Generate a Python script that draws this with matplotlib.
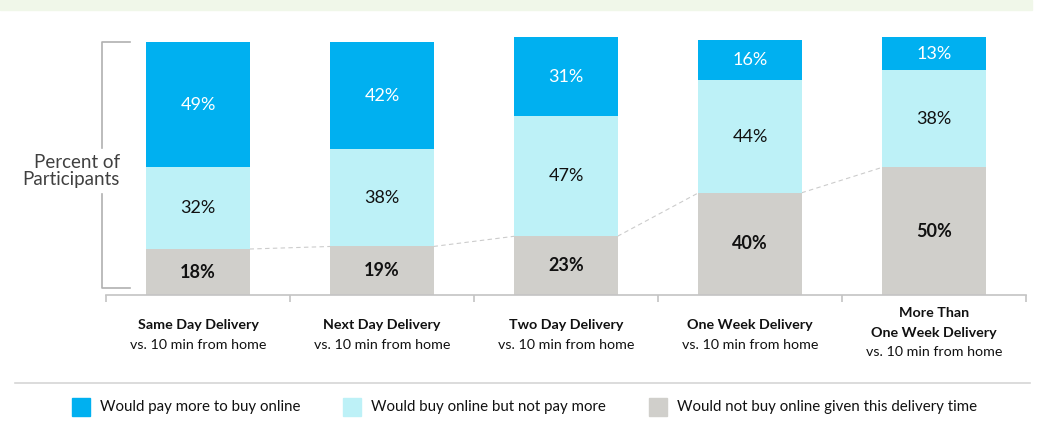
import matplotlib.pyplot as plt
import matplotlib.transforms as mtransforms
from matplotlib.patches import Rectangle
import numpy as np

plt.rcParams['font.family'] = ['Lato', 'DejaVu Sans']

# data
categories = ['Same Day Delivery', 'Next Day Delivery', 'Two Day Delivery',
              'One Week Delivery', 'More Than\nOne Week Delivery']
subtitle = 'vs. 10 min from home'
series = ['Would pay more to buy online',
          'Would buy online but not pay more',
          'Would not buy online given this delivery time']
pay_more = [49, 42, 31, 16, 13]
buy_no_more = [32, 38, 47, 44, 38]
not_buy = [18, 19, 23, 40, 50]

colors = ['#00B0F0', '#BDF1F7', '#D0CFCB']

W, H = 1038, 424
fig = plt.figure(figsize=(W / 100, H / 100), dpi=100)


def fx(px):
    return px / W


def fy(py):
    return 1 - py / H


ax = fig.add_axes([fx(106), fy(295), fx(1026) - fx(106), fy(37) - fy(295)])
x = np.arange(len(categories))
bw = 0.56

ax.bar(x, not_buy, bw, color=colors[2], zorder=2)
ax.bar(x, buy_no_more, bw, bottom=not_buy, color=colors[1], zorder=2)
bottom2 = np.array(not_buy) + np.array(buy_no_more)
ax.bar(x, pay_more, bw, bottom=bottom2, color=colors[0], zorder=2)

for i in range(len(categories)):
    ax.text(x[i], not_buy[i] / 2, f'{not_buy[i]}%', ha='center', va='center',
            fontsize=13, fontweight='bold', color='#111111')
    ax.text(x[i], not_buy[i] + buy_no_more[i] / 2, f'{buy_no_more[i]}%',
            ha='center', va='center', fontsize=13, color='#111111')
    ax.text(x[i], bottom2[i] + pay_more[i] / 2, f'{pay_more[i]}%',
            ha='center', va='center', fontsize=13, color='white')

# dashed connectors between grey tops
for i in range(len(categories) - 1):
    ax.plot([x[i] + bw / 2, x[i + 1] - bw / 2], [not_buy[i], not_buy[i + 1]],
            ls=(0, (4, 3)), lw=0.8, color='#cccccc', zorder=1)

ax.set_xlim(-0.5, len(categories) - 0.5)
ax.set_ylim(0, 101)
for s in ['top', 'right', 'left']:
    ax.spines[s].set_visible(False)
ax.spines['bottom'].set_color('#c4c4c4')
ax.spines['bottom'].set_linewidth(1.2)
ax.set_yticks([])
ax.set_xticks(np.arange(-0.5, len(categories), 1.0))
ax.set_xticklabels([])
ax.tick_params(axis='x', direction='out', length=5, width=1.2, color='#c4c4c4')

# category labels
trans = mtransforms.blended_transform_factory(ax.transData, fig.transFigure)
for i, c in enumerate(categories):
    lines = c.split('\n')
    if len(lines) == 1:
        ys = [325, 345]
    else:
        ys = [313, 333, 352]
    for j, ln in enumerate(lines):
        ax.text(x[i], fy(ys[j]), ln, transform=trans, ha='center', va='center',
                fontsize=10.3, fontweight='bold', color='#111111')
    ax.text(x[i], fy(ys[-1]), subtitle, transform=trans, ha='center',
            va='center', fontsize=10.3, color='#111111')

# bracket and y label
bc = '#b0b0b0'
fig.lines.append(plt.Line2D([fx(130), fx(102), fx(102)], [fy(42), fy(42), fy(148)],
                            transform=fig.transFigure, color=bc, lw=1.2))
fig.lines.append(plt.Line2D([fx(102), fx(102), fx(130)], [fy(194), fy(288), fy(288)],
                            transform=fig.transFigure, color=bc, lw=1.2))
fig.text(fx(120), fy(171), 'Percent of\nParticipants', ha='right', va='center',
         fontsize=13.5, color='#404040', linespacing=1.0)

# top band and separator
fig.patches.append(Rectangle((0, fy(10)), fx(1032), fy(0) - fy(10),
                             transform=fig.transFigure, color='#F0F7E9', zorder=0))
fig.lines.append(plt.Line2D([fx(15), fx(1030)], [fy(383), fy(383)],
                            transform=fig.transFigure, color='#d6d6d6', lw=1.2))

# legend
leg_x = [72, 343, 649]
for k, name in enumerate(series):
    fig.patches.append(Rectangle((fx(leg_x[k]), fy(416)), fx(18), fy(398) - fy(416),
                                 transform=fig.transFigure, color=colors[k]))
    fig.text(fx(leg_x[k] + 28), fy(407), name, ha='left', va='center',
             fontsize=10.8, color='#111111')

fig.savefig('out.png', dpi=100)
